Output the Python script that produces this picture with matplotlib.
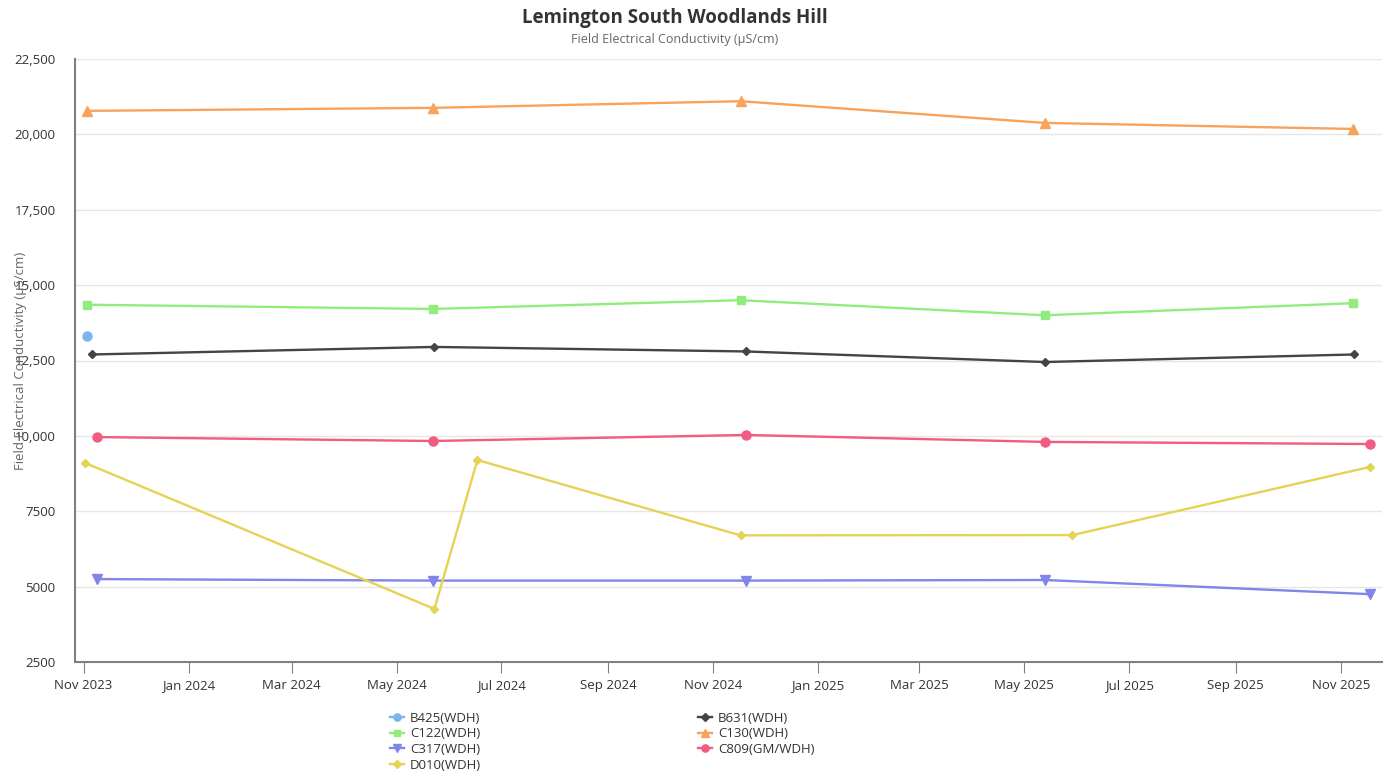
import matplotlib
matplotlib.use("Agg")
import matplotlib.pyplot as plt
import matplotlib.dates as mdates
from matplotlib.ticker import FuncFormatter
import numpy as np
import pandas as pd

plt.rcParams['font.family'] = ['Open Sans', 'DejaVu Sans']

# series data
b425_dates = ["2023-11-03"]
b425_vals = [13300]

b631_dates = ["2023-11-06", "2024-05-23", "2024-11-20", "2025-05-13", "2025-11-09"]
b631_vals = [12700, 12950, 12800, 12450, 12700]

c122_dates = ["2023-11-03", "2024-05-22", "2024-11-17", "2025-05-13", "2025-11-08"]
c122_vals = [14350, 14210, 14500, 14000, 14400]

c130_dates = ["2023-11-03", "2024-05-22", "2024-11-17", "2025-05-13", "2025-11-08"]
c130_vals = [20780, 20880, 21100, 20380, 20180]

c317_dates = ["2023-11-09", "2024-05-22", "2024-11-20", "2025-05-13", "2025-11-18"]
c317_vals = [5250, 5200, 5200, 5220, 4750]

c809_dates = ["2023-11-09", "2024-05-22", "2024-11-20", "2025-05-13", "2025-11-18"]
c809_vals = [9960, 9830, 10030, 9800, 9730]

d010_dates = ["2023-11-02", "2024-05-23", "2024-06-17", "2024-11-17", "2025-05-29", "2025-11-18"]
d010_vals = [9100, 4260, 9200, 6700, 6710, 8970]

series = [
    ("B425(WDH)", b425_dates, b425_vals, "#7cb5ec", "o", 6.5),
    ("B631(WDH)", b631_dates, b631_vals, "#434348", "D", 4.5),
    ("C122(WDH)", c122_dates, c122_vals, "#90ed7d", "s", 6),
    ("C130(WDH)", c130_dates, c130_vals, "#f7a35c", "^", 6.5),
    ("C317(WDH)", c317_dates, c317_vals, "#8085e9", "v", 6.5),
    ("C809(GM/WDH)", c809_dates, c809_vals, "#f15c80", "o", 6.5),
    ("D010(WDH)", d010_dates, d010_vals, "#e4d354", "D", 4.5),
]

fig = plt.figure(figsize=(13.93, 7.71), dpi=100)
ax = fig.add_axes([75 / 1393, 1 - 662 / 771, (1382 - 75) / 1393, (662 - 59) / 771])

handles = {}
for name, dates, vals, color, marker, ms in series:
    h, = ax.plot(pd.to_datetime(dates), vals, color=color, marker=marker, markersize=ms,
                 linewidth=1.7, label=name, zorder=3)
    handles[name] = h

ax.set_ylim(2500, 22500)
ax.set_yticks(np.arange(2500, 22501, 2500))
ax.yaxis.set_major_formatter(FuncFormatter(lambda v, p: f"{int(v):,}" if v >= 10000 else f"{int(v)}"))
ax.set_xlim(pd.Timestamp("2023-10-27"), pd.Timestamp("2025-11-25"))
ax.xaxis.set_major_locator(mdates.MonthLocator(bymonth=[1, 3, 5, 7, 9, 11]))
ax.xaxis.set_major_formatter(mdates.DateFormatter("%b %Y"))

ax.grid(axis="y", color="#e6e6e6", linewidth=1)
ax.set_axisbelow(True)
for s in ["top", "right"]:
    ax.spines[s].set_visible(False)
ax.spines["left"].set_color("#808080")
ax.spines["bottom"].set_color("#808080")
ax.spines["left"].set_linewidth(1.5)
ax.spines["bottom"].set_linewidth(1.5)
ax.tick_params(axis="y", length=0, labelsize=9.5, labelcolor="#333333", pad=14)
ax.tick_params(axis="x", length=8, color="#808080", labelsize=9.5, labelcolor="#333333", pad=4)

ax.set_ylabel("Field Electrical Conductivity (µS/cm)", fontsize=9.5, color="#666666")
ax.yaxis.set_label_coords(-0.037, 0.5)

fig.text(675 / 1393, 1 - 18 / 771, "Lemington South Woodlands Hill", ha="center", va="center",
         fontsize=13.5, fontweight="bold", color="#333333")
fig.text(675 / 1393, 1 - 40 / 771, "Field Electrical Conductivity (µS/cm)", ha="center", va="center",
         fontsize=9, color="#666666")

order = ["B425(WDH)", "C122(WDH)", "C317(WDH)", "D010(WDH)", "B631(WDH)", "C130(WDH)", "C809(GM/WDH)"]
leg = fig.legend([handles[n] for n in order], order, loc="upper left",
                 bbox_to_anchor=(383 / 1393, 1 - 705 / 771), ncol=2, frameon=False,
                 fontsize=9.5, handlelength=1.1, handletextpad=0.45, labelspacing=0.2,
                 columnspacing=16.4, markerscale=0.8, borderpad=0)
for t in leg.get_texts():
    t.set_color("#333333")

fig.savefig("out.png", dpi=100)
